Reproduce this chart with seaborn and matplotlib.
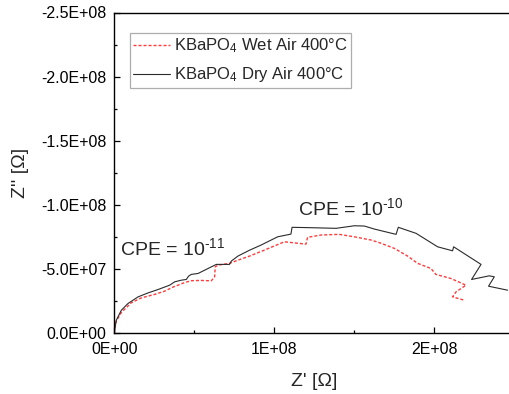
import numpy as np
import pandas as pd
import matplotlib
matplotlib.use("Agg")
import matplotlib.pyplot as plt
from matplotlib.ticker import FixedLocator, FuncFormatter
import seaborn as sns

# Nyquist data, KBaPO4 at 400 °C (Z' and Z'' in units of 1e8 ohm)
dry_zre = [0.0, 0.004, 0.0125, 0.0438, 0.0856, 0.148, 0.211, 0.273, 0.346, 0.377,
           0.419, 0.45, 0.464, 0.481, 0.523, 0.586, 0.6375, 0.72, 0.731, 0.773,
           0.846, 0.917, 1.021, 1.104, 1.111, 1.229, 1.386, 1.5, 1.5625, 1.625,
           1.761, 1.775, 1.886, 2.021, 2.114, 2.121, 2.292, 2.233, 2.344, 2.375,
           2.339, 2.458]
dry_zim = [0.0, -0.045, -0.1016, -0.1797, -0.232, -0.2836, -0.3148, -0.341, -0.375, -0.401,
           -0.414, -0.4195, -0.445, -0.459, -0.466, -0.505, -0.537, -0.537, -0.5625, -0.602,
           -0.648, -0.6875, -0.752, -0.773, -0.826, -0.823, -0.818, -0.838, -0.836, -0.8125,
           -0.771, -0.826, -0.779, -0.674, -0.643, -0.674, -0.537, -0.4195, -0.448, -0.44,
           -0.367, -0.336]

wet_zre = [0.0, 0.004, 0.0125, 0.0438, 0.106, 0.169, 0.252, 0.314, 0.367, 0.439,
           0.481, 0.544, 0.606, 0.627, 0.631, 0.648, 0.72, 0.773, 0.846, 0.9375,
           1.0625, 1.198, 1.208, 1.292, 1.406, 1.5, 1.604, 1.66, 1.75, 1.833,
           1.896, 1.979, 2.01, 2.104, 2.198, 2.136, 2.114, 2.1875]
wet_zim = [0.0, -0.042, -0.095, -0.162, -0.238, -0.276, -0.303, -0.328, -0.36, -0.395,
           -0.41, -0.412, -0.409, -0.44, -0.518, -0.531, -0.545, -0.570, -0.602, -0.648,
           -0.713, -0.695, -0.748, -0.766, -0.771, -0.752, -0.727, -0.705, -0.662, -0.602,
           -0.545, -0.505, -0.459, -0.427, -0.375, -0.323, -0.284, -0.258]

wet_label = "KBaPO$_4$ Wet Air 400°C"
dry_label = "KBaPO$_4$ Dry Air 400°C"
cpe_low = "CPE = 10$^{\\text{-}11}$"
cpe_high = "CPE = 10$^{\\text{-}10}$"

x_ticks = [0.0, 1e8, 2e8]
x_tick_labels = ["0E+00", "1E+08", "2E+08"]
y_ticks = [0.0, -5e7, -1e8, -1.5e8, -2e8, -2.5e8]
y_tick_labels = ["0.0E+00", "-5.0E+07", "-1.0E+08", "-1.5E+08", "-2.0E+08", "-2.5E+08"]

sns.set_theme(style="white")
plt.rcParams["font.family"] = ["Liberation Sans", "DejaVu Sans"]
plt.rcParams["mathtext.fontset"] = "custom"
plt.rcParams["mathtext.rm"] = "Liberation Sans"
plt.rcParams["mathtext.it"] = "Liberation Sans:italic"
plt.rcParams["axes.unicode_minus"] = False

scale = 1e8
wet = pd.DataFrame({"zre": np.array(wet_zre) * scale, "zim": np.array(wet_zim) * scale})
dry = pd.DataFrame({"zre": np.array(dry_zre) * scale, "zim": np.array(dry_zim) * scale})

fig = plt.figure(figsize=(5.09, 3.94), dpi=100)
ax = fig.add_axes([114.3 / 509, (394 - 333.3) / 394, 400 / 509, 320.8 / 394])

sns.lineplot(data=wet, x="zre", y="zim", sort=False, estimator=None, ax=ax,
             color="#ff3b3b", linewidth=1.0, label=wet_label)
ax.lines[-1].set_dashes((2.2, 1.4))
sns.lineplot(data=dry, x="zre", y="zim", sort=False, estimator=None, ax=ax,
             color="#2b2b2b", linewidth=0.8, label=dry_label)

ax.set_xlim(0, 2.5e8)
ax.set_ylim(0, -2.5e8)

ax.xaxis.set_major_locator(FixedLocator(x_ticks))
ax.xaxis.set_major_formatter(FuncFormatter(lambda v, p: x_tick_labels[p] if p is not None and p < len(x_tick_labels) else ""))
ax.xaxis.set_minor_locator(FixedLocator([5e7, 1.5e8]))
ax.yaxis.set_major_locator(FixedLocator(y_ticks))
ax.yaxis.set_major_formatter(FuncFormatter(lambda v, p: y_tick_labels[p] if p is not None and p < len(y_tick_labels) else ""))
ax.yaxis.set_minor_locator(FixedLocator([-2.5e7, -7.5e7, -1.25e8, -1.75e8, -2.25e8]))

ax.tick_params(which="major", direction="in", length=4, width=0.9, colors="black",
               labelsize=11.5, bottom=True, left=True)
ax.tick_params(axis="y", which="major", pad=5.5)
ax.tick_params(axis="x", which="major", pad=6.5)
ax.tick_params(which="minor", direction="in", length=2.5, width=0.9, colors="black",
               bottom=True, left=True)

for side in ["left", "bottom", "top", "right"]:
    ax.spines[side].set_color("black")
    ax.spines[side].set_linewidth(1.0)

ax.set_xlabel("Z' [Ω]", fontsize=14, labelpad=11)
ax.set_ylabel("Z'' [Ω]", fontsize=14, labelpad=8.5)

ax.text(3.6e6, -6.6e7, cpe_low, fontsize=14, va="center", ha="left")
ax.text(1.15e8, -9.76e7, cpe_high, fontsize=14, va="center", ha="left")

leg = ax.legend(loc="upper left", bbox_to_anchor=(0.039, 0.935), borderaxespad=0,
                fontsize=12, frameon=True, fancybox=False, handlelength=2.2,
                handletextpad=0.25, borderpad=0.2, labelspacing=0.6)
leg.get_frame().set_edgecolor("#999999")
leg.get_frame().set_linewidth(0.9)

ax.grid(False)
fig.savefig("out.png", dpi=100)
